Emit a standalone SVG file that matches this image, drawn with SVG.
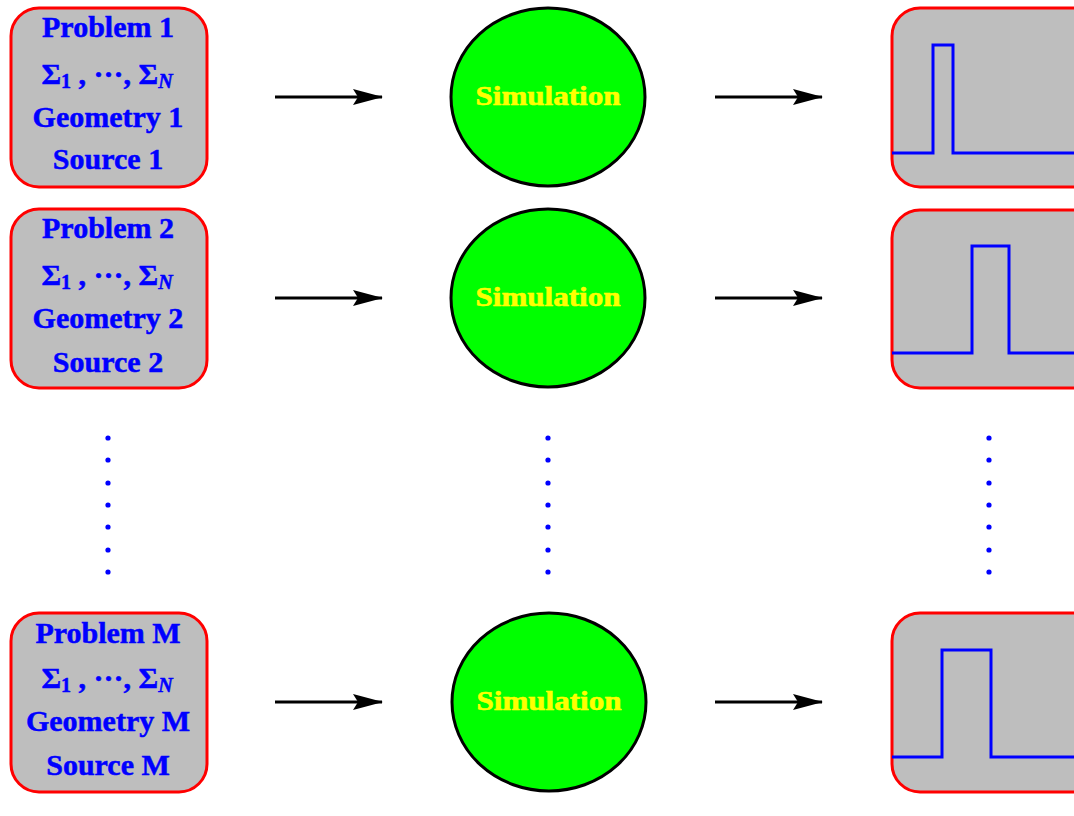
<svg xmlns="http://www.w3.org/2000/svg" width="1074" height="816" viewBox="0 0 1074 816">
<style>
.box{fill:#bebebe;stroke:#ff0000;stroke-width:3}
.lbl{font-family:"Liberation Serif","Times New Roman",serif;font-weight:bold;font-size:30px;fill:#0000ff;stroke:#0000ff;stroke-width:0.5;text-anchor:middle}
.sim{fill:#00ff00;stroke:#000;stroke-width:3}
.simt{font-family:"Liberation Serif","Times New Roman",serif;font-weight:bold;font-size:28px;fill:#ffff00;stroke:#ffff00;stroke-width:0.6;text-anchor:middle}
.sig{fill:none;stroke:#0000ff;stroke-width:3}
.arr{stroke:#000;stroke-width:3;fill:none;marker-end:url(#ah)}
.dot{fill:#0000ff}
</style>
<defs>
<marker id="ah" markerUnits="userSpaceOnUse" viewBox="0 0 30 16" markerWidth="30" markerHeight="16" refX="29" refY="8" orient="auto">
<path d="M0,0 L30,8 L0,16 L5,8 z" fill="#000"/>
</marker>
</defs>
<rect width="1074" height="816" fill="#fff"/>

<g id="problem1">
<rect class="box" x="11" y="8" width="196" height="179" rx="28"/>
<text class="lbl" x="108" y="37">Problem 1</text>
<text class="lbl" x="107" y="84">Σ<tspan dy="4" font-size="20">1</tspan><tspan dy="-4"> , ···, Σ</tspan><tspan dy="4" font-size="20" font-style="italic">N</tspan></text>
<text class="lbl" x="108" y="127">Geometry 1</text>
<text class="lbl" x="108" y="169">Source 1</text>
</g>
<g id="problem2">
<rect class="box" x="11" y="209" width="196" height="179" rx="28"/>
<text class="lbl" x="108" y="238">Problem 2</text>
<text class="lbl" x="107" y="285">Σ<tspan dy="4" font-size="20">1</tspan><tspan dy="-4"> , ···, Σ</tspan><tspan dy="4" font-size="20" font-style="italic">N</tspan></text>
<text class="lbl" x="108" y="328">Geometry 2</text>
<text class="lbl" x="108" y="372">Source 2</text>
</g>
<g id="problemM">
<rect class="box" x="11" y="613" width="196" height="179" rx="28"/>
<text class="lbl" x="108" y="643">Problem M</text>
<text class="lbl" x="107" y="688">Σ<tspan dy="4" font-size="20">1</tspan><tspan dy="-4"> , ···, Σ</tspan><tspan dy="4" font-size="20" font-style="italic">N</tspan></text>
<text class="lbl" x="108" y="731">Geometry M</text>
<text class="lbl" x="108" y="775">Source M</text>
</g>

<g id="sim1">
<ellipse class="sim" cx="548" cy="97" rx="97" ry="89"/>
<text class="simt" x="548" y="105" textLength="145" lengthAdjust="spacingAndGlyphs">Simulation</text>
</g>
<g id="sim2">
<ellipse class="sim" cx="548" cy="298" rx="97" ry="89"/>
<text class="simt" x="548" y="306" textLength="145" lengthAdjust="spacingAndGlyphs">Simulation</text>
</g>
<g id="simM">
<ellipse class="sim" cx="549" cy="702" rx="97" ry="89"/>
<text class="simt" x="549" y="710" textLength="145" lengthAdjust="spacingAndGlyphs">Simulation</text>
</g>

<g id="result1">
<rect class="box" x="892" y="8" width="230" height="179" rx="28"/>
<path class="sig" d="M892,153 H933 V45 H953 V153 H1074"/>
</g>
<g id="result2">
<rect class="box" x="892" y="210" width="230" height="178" rx="28"/>
<path class="sig" d="M892,353 H972 V246 H1009 V353 H1074"/>
</g>
<g id="resultM">
<rect class="box" x="892" y="613" width="230" height="179" rx="28"/>
<path class="sig" d="M892,757 H942 V650 H991 V757 H1074"/>
</g>

<g id="connectors">
<line class="arr" x1="275" y1="97" x2="382" y2="97"/>
<line class="arr" x1="715" y1="97" x2="822" y2="97"/>
<line class="arr" x1="275" y1="298" x2="382" y2="298"/>
<line class="arr" x1="715" y1="298" x2="822" y2="298"/>
<line class="arr" x1="275" y1="702" x2="382" y2="702"/>
<line class="arr" x1="715" y1="702" x2="822" y2="702"/>
</g>

<g id="ellipsis">
<g class="dot">
<circle cx="108" cy="438" r="2.6"/><circle cx="108" cy="460" r="2.6"/><circle cx="108" cy="483" r="2.6"/><circle cx="108" cy="505" r="2.6"/><circle cx="108" cy="527" r="2.6"/><circle cx="108" cy="550" r="2.6"/><circle cx="108" cy="572" r="2.6"/>
<circle cx="548" cy="438" r="2.6"/><circle cx="548" cy="460" r="2.6"/><circle cx="548" cy="483" r="2.6"/><circle cx="548" cy="505" r="2.6"/><circle cx="548" cy="527" r="2.6"/><circle cx="548" cy="550" r="2.6"/><circle cx="548" cy="572" r="2.6"/>
<circle cx="989" cy="438" r="2.6"/><circle cx="989" cy="460" r="2.6"/><circle cx="989" cy="483" r="2.6"/><circle cx="989" cy="505" r="2.6"/><circle cx="989" cy="527" r="2.6"/><circle cx="989" cy="550" r="2.6"/><circle cx="989" cy="572" r="2.6"/>
</g>
</g>
</svg>
